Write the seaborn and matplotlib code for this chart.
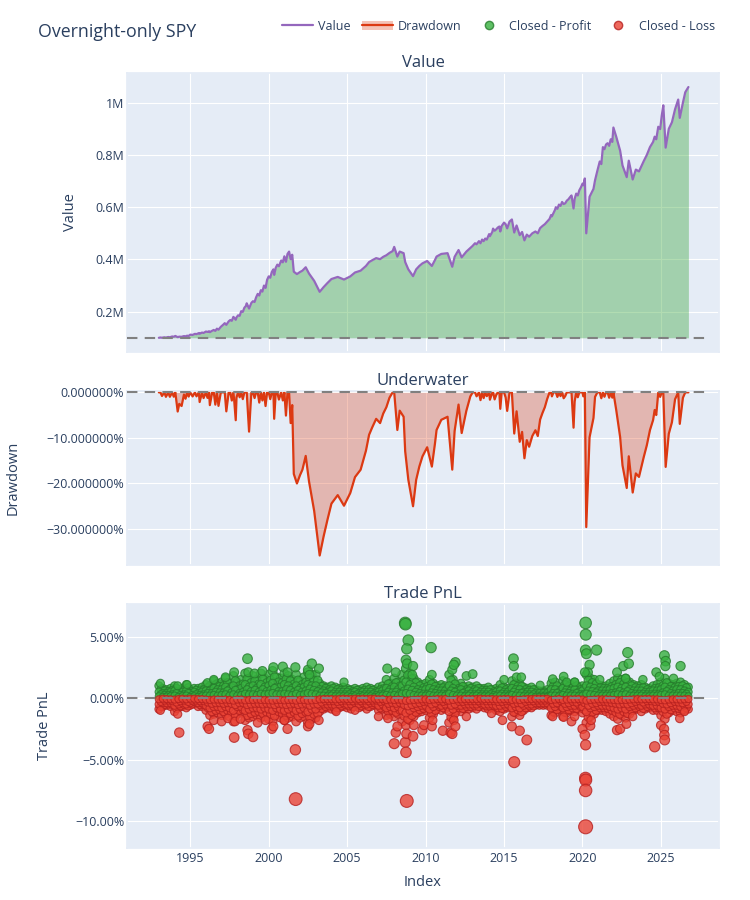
"""
Overnight-only SPY: portfolio value, underwater curve and closed trade PnL
"""

import matplotlib.pyplot as plt
import numpy as np
import pandas as pd
import seaborn as sns
from matplotlib.lines import Line2D
from matplotlib.patches import Patch

# --- portfolio value (fractional year, thousands USD) ---
value_years = [
    1993.0, 1993.1, 1993.2, 1993.35, 1993.45, 1993.6, 1993.7, 1993.85, 1993.95, 1994.05,
    1994.2, 1994.3, 1994.45, 1994.6, 1994.7, 1994.8, 1994.9,
    1995.0, 1995.15, 1995.3, 1995.4, 1995.55, 1995.6, 1995.75, 1995.85, 1996.0, 1996.1,
    1996.2, 1996.25, 1996.4, 1996.5, 1996.6, 1996.7, 1996.8, 1996.95,
    1997.1, 1997.2, 1997.3, 1997.45, 1997.55, 1997.65, 1997.75, 1997.8, 1997.9, 1997.95,
    1998.05, 1998.15, 1998.25, 1998.35, 1998.45, 1998.55, 1998.6, 1998.75, 1998.85, 1998.9,
    1999.0, 1999.1, 1999.2, 1999.3, 1999.4, 1999.5, 1999.6, 1999.7, 1999.8, 1999.9,
    2000.0, 2000.1, 2000.2, 2000.3, 2000.35, 2000.45, 2000.55, 2000.65, 2000.8, 2000.9,
    2001.0, 2001.1, 2001.2, 2001.3,
    2001.4, 2001.5, 2001.6, 2001.8, 2002.0, 2002.15, 2002.36, 2002.57, 2002.9, 2003.25,
    2003.5, 2003.75, 2004.0, 2004.4, 2004.8, 2005.2, 2005.5, 2005.86, 2006.2, 2006.4,
    2006.6, 2006.85, 2007.1, 2007.3, 2007.5, 2007.7, 2007.9,
    2008.0, 2008.2, 2008.35, 2008.6, 2008.7, 2008.9, 2009.2, 2009.4, 2009.6, 2009.8,
    2010.1, 2010.4, 2010.6, 2010.7, 2011.0, 2011.4, 2011.7, 2011.85, 2012.1, 2012.3,
    2012.6, 2012.85,
    2013.0, 2013.15, 2013.25, 2013.4, 2013.5, 2013.6, 2013.7, 2013.8, 2013.9, 2014.05,
    2014.1, 2014.25, 2014.3, 2014.4, 2014.5, 2014.6, 2014.7, 2014.76, 2014.85, 2015.0,
    2015.1, 2015.2, 2015.35, 2015.5,
    2015.65, 2015.8, 2016.0, 2016.15, 2016.3, 2016.45, 2016.6, 2016.8, 2017.0, 2017.15,
    2017.3, 2017.45, 2017.6, 2017.75, 2017.9,
    2018.0, 2018.05, 2018.15, 2018.25, 2018.3, 2018.4, 2018.5, 2018.6, 2018.7, 2018.8,
    2018.9, 2019.0, 2019.1, 2019.2, 2019.3, 2019.43, 2019.5, 2019.6, 2019.7, 2019.8,
    2019.9, 2020.0, 2020.05, 2020.15,
    2020.24, 2020.45, 2020.7, 2020.8, 2020.95, 2021.1, 2021.2, 2021.3, 2021.4, 2021.5,
    2021.6, 2021.7, 2021.8, 2021.9, 2021.97,
    2022.15, 2022.4, 2022.55, 2022.82, 2022.95, 2023.2, 2023.4, 2023.6, 2023.9, 2024.1,
    2024.3, 2024.5, 2024.6, 2024.7, 2024.83, 2024.95, 2025.05, 2025.15, 2025.3, 2025.5,
    2025.7, 2025.9, 2026.1, 2026.2, 2026.4, 2026.55, 2026.75,
]
value_k = [
    100, 101, 100.2, 101.8, 100.8, 103, 102, 105, 104, 107,
    102.5, 104.3, 103.8, 106.5, 105.5, 108, 107,
    112, 111, 115, 114, 118, 115.5, 120, 118.5, 124, 122.5,
    125, 121.5, 127, 130, 126.5, 135, 131, 142,
    150, 156, 149.5, 163, 168, 165, 180, 177, 169, 178,
    186, 184, 202, 199, 215, 222, 232, 212, 226, 234,
    240, 237, 255, 268, 262, 282, 277, 300, 291, 322,
    335, 330, 352, 362, 341, 368, 380, 374, 396, 389,
    412, 391, 421, 430,
    401, 418, 353, 344, 352, 357, 370, 346, 318, 276,
    294, 310, 325, 333, 323, 335, 350, 357, 375, 390,
    397, 405, 401, 410, 416, 425, 432,
    448, 411, 430, 424, 390, 362, 336, 362, 375, 385,
    394, 375, 398, 411, 421, 424, 372, 410, 436, 408,
    430, 444,
    452, 462, 458, 470, 462, 476, 470, 480, 476, 497,
    489, 505, 518, 510, 515, 522, 526, 507, 528, 541,
    535, 519, 545, 553,
    503, 530, 493, 505, 473, 495, 487, 500, 507, 500,
    520, 528, 535, 545, 555,
    570, 565, 578, 590, 600, 594, 610, 605, 620, 612,
    615, 625, 630, 638, 645, 595, 632, 652, 645, 665,
    676, 690, 684, 710,
    500, 640, 670, 703, 740, 775, 765, 830, 822, 840,
    845, 835, 860, 850, 905,
    870, 816, 760, 715, 778, 706, 744, 737, 776, 800,
    830, 850, 870, 860, 908, 899, 950, 990, 828, 900,
    925, 975, 1012, 942, 1000, 1040, 1060,
]
init_cash_k = 100

# --- closed trades (percent) ---
# dense band, one row of trades per quarter 1993.0 .. 2026.75, another row between quarters
band_start, band_end = 1993.0, 2026.75

profit_edge = [
    1.0, 0.8, 0.7, 0.8,  1.0, 0.7, 0.8, 1.1,  0.7, 0.8, 0.8, 0.9,  1.1, 1.0, 1.4, 1.2,  # 93-96
    1.3, 1.6, 1.2, 1.8,  1.3, 1.5, 2.0, 1.6,  1.8, 1.5, 2.0, 1.6,  1.9, 2.2, 1.7, 1.6,  # 97-00
    2.0, 1.8, 1.5, 1.9,  1.4, 1.7, 2.1, 1.9,  1.9, 1.2, 1.0, 0.9,  1.0, 0.9, 0.8, 0.9,  # 01-04
    0.8, 0.7, 0.8, 0.7,  0.8, 0.9, 0.8, 0.7,  0.9, 1.0, 1.5, 1.2,  1.6, 1.3, 1.9, 2.4,  # 05-08
    2.0, 1.6, 1.3, 1.1,  1.2, 1.5, 1.2, 1.0,  1.1, 1.0, 1.9, 1.5,  1.0, 1.2, 0.9, 1.0,  # 09-12
    0.9, 1.0, 0.8, 0.8,  0.9, 0.7, 0.8, 1.1,  0.9, 0.8, 1.4, 1.2,  1.2, 0.9, 0.8, 0.9,  # 13-16
    0.7, 0.6, 0.6, 0.7,  1.2, 1.3, 0.9, 1.4,  1.2, 1.1, 1.3, 0.9,  1.0, 1.9, 1.6, 1.5,  # 17-20
    1.1, 1.0, 1.0, 1.2,  1.4, 1.6, 1.5, 1.6,  1.3, 1.1, 1.0, 1.1,  0.9, 0.8, 1.0, 1.1,  # 21-24
    1.3, 1.6, 1.2, 1.1,  1.2, 1.3, 1.1, 0.9,  # 25-26
]
profit_mid = [
    0.5, 0.4, 0.4, 0.5,  0.6, 0.4, 0.5, 0.6,  0.4, 0.5, 0.4, 0.5,  0.6, 0.6, 0.8, 0.7,
    0.7, 0.9, 0.7, 1.0,  0.7, 0.8, 1.1, 0.9,  1.0, 0.8, 1.1, 0.9,  1.0, 1.2, 0.9, 0.9,
    1.1, 1.0, 0.8, 1.0,  0.8, 0.9, 1.1, 1.0,  1.0, 0.7, 0.6, 0.5,  0.6, 0.5, 0.5, 0.5,
    0.5, 0.4, 0.5, 0.4,  0.5, 0.5, 0.5, 0.4,  0.5, 0.6, 0.8, 0.7,  0.9, 0.7, 1.0, 1.3,
    1.1, 0.9, 0.7, 0.6,  0.7, 0.8, 0.7, 0.6,  0.6, 0.6, 1.0, 0.8,  0.6, 0.7, 0.5, 0.6,
    0.5, 0.6, 0.5, 0.5,  0.5, 0.4, 0.5, 0.6,  0.5, 0.5, 0.8, 0.7,  0.7, 0.5, 0.5, 0.5,
    0.4, 0.4, 0.4, 0.4,  0.7, 0.7, 0.5, 0.8,  0.7, 0.6, 0.7, 0.5,  0.6, 1.0, 0.9, 0.8,
    0.6, 0.6, 0.6, 0.7,  0.8, 0.9, 0.8, 0.9,  0.7, 0.6, 0.6, 0.6,  0.5, 0.5, 0.6, 0.6,
    0.7, 0.9, 0.7, 0.6,  0.7, 0.7, 0.6, 0.5,
]
profit_small = [
    0.15, 0.10, 0.12, 0.15,  0.20, 0.10, 0.15, 0.20,  0.10, 0.15, 0.10, 0.15,  0.20, 0.20, 0.25, 0.20,
    0.25, 0.30, 0.20, 0.30,  0.20, 0.25, 0.35, 0.30,  0.30, 0.25, 0.35, 0.30,  0.35, 0.40, 0.30, 0.30,
    0.35, 0.30, 0.25, 0.35,  0.25, 0.30, 0.40, 0.35,  0.30, 0.20, 0.20, 0.15,  0.20, 0.15, 0.15, 0.15,
    0.15, 0.10, 0.15, 0.10,  0.15, 0.15, 0.15, 0.10,  0.15, 0.20, 0.25, 0.20,  0.25, 0.20, 0.35, 0.40,
    0.35, 0.25, 0.20, 0.20,  0.20, 0.25, 0.20, 0.20,  0.20, 0.20, 0.35, 0.25,  0.20, 0.20, 0.15, 0.20,
    0.15, 0.20, 0.15, 0.15,  0.15, 0.10, 0.15, 0.20,  0.15, 0.15, 0.25, 0.20,  0.20, 0.15, 0.15, 0.15,
    0.10, 0.10, 0.10, 0.10,  0.20, 0.20, 0.15, 0.25,  0.20, 0.20, 0.20, 0.15,  0.20, 0.35, 0.30, 0.25,
    0.20, 0.20, 0.20, 0.20,  0.25, 0.30, 0.25, 0.30,  0.20, 0.20, 0.20, 0.20,  0.15, 0.15, 0.20, 0.20,
    0.25, 0.30, 0.20, 0.20,  0.20, 0.20, 0.20, 0.15,
]
# rows between quarters (1993.125 .. 2026.625)
profit_mid2 = [
    0.70, 0.60, 0.55, 0.65,  0.80, 0.55, 0.65, 0.85,  0.55, 0.65, 0.60, 0.70,  0.85, 0.80, 1.10, 0.95,
    1.00, 1.25, 0.95, 1.40,  1.00, 1.15, 1.55, 1.25,  1.40, 1.15, 1.55, 1.25,  1.45, 1.70, 1.30, 1.25,
    1.55, 1.40, 1.15, 1.45,  1.10, 1.30, 1.60, 1.45,  1.45, 0.95, 0.80, 0.70,  0.80, 0.70, 0.65, 0.70,
    0.65, 0.55, 0.65, 0.55,  0.65, 0.70, 0.65, 0.55,  0.70, 0.80, 1.15, 0.95,  1.25, 1.00, 1.45, 1.85,
    1.55, 1.25, 1.00, 0.85,  0.95, 1.15, 0.95, 0.80,  0.85, 0.80, 1.45, 1.15,  0.80, 0.95, 0.70, 0.80,
    0.70, 0.80, 0.65, 0.65,  0.70, 0.55, 0.65, 0.85,  0.70, 0.65, 1.10, 0.95,  0.95, 0.70, 0.65, 0.70,
    0.55, 0.50, 0.50, 0.55,  0.95, 1.00, 0.70, 1.10,  0.95, 0.85, 1.00, 0.70,  0.80, 1.45, 1.25, 1.15,
    0.85, 0.80, 0.80, 0.95,  1.10, 1.25, 1.15, 1.25,  1.00, 0.85, 0.80, 0.85,  0.70, 0.65, 0.80, 0.85,
    1.00, 1.25, 0.95, 0.85,  0.95, 1.00, 0.85,
]
profit_small2 = [
    0.30, 0.25, 0.25, 0.30,  0.40, 0.25, 0.30, 0.40,  0.25, 0.30, 0.25, 0.30,  0.40, 0.40, 0.50, 0.45,
    0.45, 0.60, 0.45, 0.65,  0.40, 0.50, 0.70, 0.55,  0.65, 0.50, 0.70, 0.55,  0.65, 0.80, 0.55, 0.55,
    0.70, 0.65, 0.50, 0.65,  0.50, 0.60, 0.75, 0.65,  0.55, 0.45, 0.40, 0.30,  0.35, 0.30, 0.30, 0.30,
    0.30, 0.25, 0.30, 0.25,  0.30, 0.30, 0.30, 0.25,  0.30, 0.35, 0.50, 0.45,  0.50, 0.40, 0.60, 0.75,
    0.65, 0.50, 0.40, 0.35,  0.35, 0.45, 0.40, 0.35,  0.35, 0.35, 0.60, 0.50,  0.35, 0.40, 0.30, 0.35,
    0.30, 0.35, 0.30, 0.30,  0.30, 0.25, 0.30, 0.35,  0.30, 0.30, 0.50, 0.40,  0.40, 0.30, 0.30, 0.30,
    0.20, 0.20, 0.20, 0.20,  0.40, 0.40, 0.30, 0.45,  0.40, 0.35, 0.40, 0.30,  0.35, 0.60, 0.55, 0.45,
    0.35, 0.35, 0.35, 0.40,  0.45, 0.55, 0.45, 0.55,  0.40, 0.35, 0.35, 0.35,  0.30, 0.30, 0.35, 0.35,
    0.45, 0.55, 0.40, 0.35,  0.40, 0.40, 0.35,
]
loss_edge = [
    -0.9, -0.7, -0.6, -0.7,  -1.1, -0.8, -0.7, -0.8,  -0.6, -0.5, -0.7, -0.7,  -1.0, -1.4, -1.3, -1.2,
    -1.4, -1.3, -1.5, -1.9,  -1.3, -1.2, -1.8, -1.6,  -1.5, -1.4, -1.6, -1.5,  -1.7, -1.9, -1.4, -1.6,
    -1.8, -1.6, -1.5, -1.9,  -1.6, -1.5, -2.0, -1.7,  -1.6, -1.1, -0.9, -0.8,  -0.9, -1.0, -0.8, -0.7,
    -0.8, -0.9, -0.7, -0.8,  -0.7, -0.9, -0.7, -0.6,  -1.0, -0.9, -1.4, -1.3,  -1.5, -1.3, -1.9, -2.2,
    -1.8, -1.5, -1.2, -1.1,  -1.0, -1.6, -1.3, -0.9,  -1.0, -0.9, -2.0, -1.6,  -1.0, -1.1, -0.9, -0.9,
    -0.8, -0.9, -0.7, -0.8,  -0.9, -0.8, -1.0, -1.1,  -0.9, -0.8, -1.5, -1.2,  -1.4, -1.0, -0.8, -0.8,
    -0.6, -0.6, -0.6, -0.6,  -1.4, -1.2, -0.9, -1.5,  -1.2, -1.0, -1.1, -0.9,  -1.2, -2.0, -1.5, -1.3,
    -1.0, -1.0, -1.1, -1.3,  -1.5, -1.7, -1.4, -1.6,  -1.3, -1.0, -0.9, -1.1,  -0.9, -0.8, -1.0, -1.0,
    -1.4, -1.7, -1.2, -1.0,  -1.1, -1.2, -1.0, -0.9,
]
loss_mid = [
    -0.5, -0.4, -0.4, -0.4,  -0.6, -0.5, -0.4, -0.5,  -0.4, -0.3, -0.4, -0.4,  -0.6, -0.8, -0.7, -0.7,
    -0.8, -0.7, -0.8, -1.0,  -0.7, -0.7, -1.0, -0.9,  -0.8, -0.8, -0.9, -0.8,  -0.9, -1.0, -0.8, -0.9,
    -1.0, -0.9, -0.8, -1.0,  -0.9, -0.8, -1.1, -0.9,  -0.9, -0.6, -0.5, -0.5,  -0.5, -0.6, -0.5, -0.4,
    -0.5, -0.5, -0.4, -0.5,  -0.4, -0.5, -0.4, -0.4,  -0.6, -0.5, -0.8, -0.7,  -0.8, -0.7, -1.0, -1.2,
    -1.0, -0.8, -0.7, -0.6,  -0.6, -0.9, -0.7, -0.5,  -0.6, -0.5, -1.1, -0.9,  -0.6, -0.6, -0.5, -0.5,
    -0.5, -0.5, -0.4, -0.5,  -0.5, -0.5, -0.6, -0.6,  -0.5, -0.5, -0.8, -0.7,  -0.8, -0.6, -0.5, -0.5,
    -0.4, -0.4, -0.4, -0.4,  -0.8, -0.7, -0.5, -0.8,  -0.7, -0.6, -0.6, -0.5,  -0.7, -1.1, -0.8, -0.7,
    -0.6, -0.6, -0.6, -0.7,  -0.8, -0.9, -0.8, -0.9,  -0.7, -0.6, -0.5, -0.6,  -0.5, -0.5, -0.6, -0.6,
    -0.8, -0.9, -0.7, -0.6,  -0.6, -0.7, -0.6, -0.5,
]
loss_small = [
    -0.10, -0.05, -0.08, -0.10,  -0.12, -0.08, -0.05, -0.10,  -0.05, -0.05, -0.08, -0.08,  -0.12, -0.15, -0.12, -0.12,
    -0.15, -0.12, -0.15, -0.20,  -0.12, -0.12, -0.18, -0.15,  -0.15, -0.12, -0.15, -0.15,  -0.18, -0.20, -0.15, -0.15,
    -0.18, -0.15, -0.15, -0.20,  -0.15, -0.15, -0.20, -0.18,  -0.15, -0.10, -0.08, -0.08,  -0.08, -0.10, -0.08, -0.05,
    -0.08, -0.08, -0.05, -0.08,  -0.05, -0.08, -0.05, -0.05,  -0.10, -0.08, -0.15, -0.12,  -0.15, -0.12, -0.18, -0.22,
    -0.18, -0.15, -0.12, -0.10,  -0.10, -0.15, -0.12, -0.08,  -0.10, -0.08, -0.20, -0.15,  -0.10, -0.10, -0.08, -0.08,
    -0.08, -0.08, -0.05, -0.08,  -0.08, -0.08, -0.10, -0.10,  -0.08, -0.08, -0.15, -0.12,  -0.15, -0.10, -0.08, -0.08,
    -0.05, -0.05, -0.05, -0.05,  -0.15, -0.12, -0.08, -0.15,  -0.12, -0.10, -0.10, -0.08,  -0.12, -0.20, -0.15, -0.12,
    -0.10, -0.10, -0.10, -0.12,  -0.15, -0.18, -0.15, -0.15,  -0.12, -0.10, -0.08, -0.10,  -0.08, -0.08, -0.10, -0.10,
    -0.15, -0.18, -0.12, -0.10,  -0.10, -0.12, -0.10, -0.08,
]
loss_mid2 = [
    -0.70, -0.55, -0.50, -0.55,  -0.85, -0.65, -0.55, -0.65,  -0.50, -0.40, -0.55, -0.55,  -0.80, -1.10, -1.00, -0.95,
    -1.10, -1.00, -1.15, -1.45,  -1.00, -0.95, -1.40, -1.25,  -1.15, -1.10, -1.25, -1.15,  -1.30, -1.45, -1.10, -1.25,
    -1.40, -1.25, -1.15, -1.45,  -1.25, -1.15, -1.55, -1.30,  -1.25, -0.85, -0.70, -0.65,  -0.70, -0.80, -0.65, -0.55,
    -0.65, -0.70, -0.55, -0.65,  -0.55, -0.70, -0.55, -0.50,  -0.80, -0.70, -1.10, -1.00,  -1.15, -1.00, -1.45, -1.70,
    -1.40, -1.15, -0.95, -0.85,  -0.80, -1.25, -1.00, -0.70,  -0.80, -0.70, -1.55, -1.25,  -0.80, -0.85, -0.70, -0.70,
    -0.65, -0.70, -0.55, -0.65,  -0.70, -0.65, -0.80, -0.85,  -0.70, -0.65, -1.15, -0.95,  -1.10, -0.80, -0.65, -0.65,
    -0.50, -0.50, -0.50, -0.50,  -1.10, -0.95, -0.70, -1.15,  -0.95, -0.80, -0.85, -0.70,  -0.95, -1.55, -1.15, -1.00,
    -0.80, -0.80, -0.85, -1.00,  -1.15, -1.30, -1.10, -1.25,  -1.00, -0.80, -0.70, -0.85,  -0.70, -0.65, -0.80, -0.80,
    -1.10, -1.30, -0.95, -0.80,  -0.85, -0.95, -0.80,
]
loss_small2 = [
    -0.30, -0.20, -0.20, -0.25,  -0.35, -0.25, -0.20, -0.30,  -0.20, -0.20, -0.25, -0.25,  -0.35, -0.45, -0.40, -0.40,
    -0.45, -0.40, -0.45, -0.55,  -0.40, -0.40, -0.55, -0.50,  -0.45, -0.45, -0.50, -0.45,  -0.50, -0.55, -0.45, -0.50,
    -0.55, -0.50, -0.45, -0.55,  -0.50, -0.45, -0.60, -0.50,  -0.50, -0.35, -0.25, -0.25,  -0.25, -0.30, -0.25, -0.20,
    -0.25, -0.25, -0.20, -0.25,  -0.20, -0.25, -0.20, -0.20,  -0.30, -0.25, -0.45, -0.40,  -0.45, -0.40, -0.55, -0.65,
    -0.55, -0.45, -0.40, -0.30,  -0.30, -0.50, -0.40, -0.25,  -0.30, -0.25, -0.60, -0.50,  -0.30, -0.30, -0.25, -0.25,
    -0.25, -0.25, -0.20, -0.25,  -0.25, -0.25, -0.30, -0.30,  -0.25, -0.25, -0.45, -0.40,  -0.45, -0.30, -0.25, -0.25,
    -0.20, -0.20, -0.20, -0.20,  -0.45, -0.40, -0.25, -0.45,  -0.40, -0.30, -0.35, -0.25,  -0.40, -0.60, -0.45, -0.40,
    -0.30, -0.30, -0.35, -0.40,  -0.45, -0.50, -0.45, -0.50,  -0.40, -0.30, -0.25, -0.35,  -0.25, -0.25, -0.30, -0.30,
    -0.45, -0.50, -0.40, -0.30,  -0.35, -0.40, -0.30,
]

# individual trades that stand out of the band
profit_out_years = [
    1993.1, 1994.2, 1994.8, 1996.1, 1996.5, 1997.25, 1997.8, 1998.65, 1998.7, 1999.1, 1999.6,
    2000.3, 2000.9, 2001.2, 2001.7, 2002.5, 2002.6, 2002.75, 2003.2,
    2004.8, 2007.56, 2008.1, 2008.7, 2008.72, 2008.9, 2008.8, 2008.75, 2008.82, 2009.2, 2009.15,
    2010.35, 2010.4, 2011.7, 2011.9, 2011.8, 2012.6, 2013.0, 2015.0, 2015.6, 2015.62, 2015.8,
    2016.1, 2017.3, 2018.1, 2018.8, 2019.0, 2019.5, 2020.2, 2020.21, 2020.19, 2020.25, 2020.9,
    2020.45, 2020.35, 2020.15, 2021.1, 2022.2, 2022.6, 2022.88, 2022.95, 2022.75, 2023.85,
    2024.7, 2024.9, 2025.22, 2025.3, 2025.28, 2025.8, 2026.25,
]
profit_out_pct = [
    1.2, 1.0, 1.1, 1.25, 1.5, 1.7, 2.1, 3.2, 2.1, 2.0, 2.2,
    2.5, 2.55, 2.1, 2.5, 2.3, 1.9, 2.8, 2.4,
    1.3, 2.4, 2.1, 6.1, 6.0, 4.7, 4.0, 3.1, 2.8, 2.6, 1.9,
    4.1, 1.9, 2.3, 2.9, 2.7, 1.8, 1.95, 1.5, 3.2, 2.6, 1.7,
    1.7, 1.05, 1.55, 1.75, 1.3, 1.3, 6.1, 5.15, 3.9, 3.6, 3.9,
    2.7, 2.1, 2.1, 1.5, 2.1, 2.6, 3.7, 2.8, 1.6, 1.5,
    2.1, 1.75, 3.45, 3.0, 2.6, 1.6, 2.6,
]
loss_out_years = [
    1993.1, 1994.2, 1994.3, 1996.1, 1996.2, 1996.5, 1997.0, 1997.4, 1997.8, 1997.85, 1998.2,
    1998.65, 1998.7, 1999.0, 1999.3, 1999.8, 2000.2, 2000.3, 2001.0, 2001.2, 2001.7, 2001.72,
    2002.5, 2002.6, 2003.2,
    2004.3, 2005.5, 2007.0, 2007.6, 2008.0, 2008.1, 2008.2, 2008.7, 2008.75, 2008.78, 2008.8,
    2009.2, 2009.25, 2009.8, 2009.9, 2010.4, 2010.45, 2011.1, 2011.6, 2011.7, 2011.8, 2011.9,
    2012.6, 2014.2, 2014.9, 2015.5, 2015.65, 2016.0, 2016.45,
    2018.1, 2018.8, 2019.3, 2019.5, 2020.0, 2020.15, 2020.2, 2020.19, 2020.21, 2020.2, 2020.2,
    2020.5, 2020.55, 2022.2, 2022.4, 2022.8, 2023.2, 2024.6, 2025.0, 2025.2, 2025.22, 2025.24,
    2026.2, 2026.5,
]
loss_out_pct = [
    -1.0, -1.3, -2.8, -2.3, -2.5, -1.8, -1.9, -1.65, -3.2, -1.9, -1.7,
    -2.6, -2.9, -3.15, -2.0, -1.8, -2.5, -2.3, -1.8, -2.5, -4.2, -8.2,
    -2.3, -2.1, -1.8,
    -1.1, -1.0, -1.5, -1.65, -3.7, -2.8, -2.3, -3.6, -4.4, -2.9, -8.35,
    -3.1, -2.2, -2.6, -2.2, -2.3, -1.8, -2.65, -2.8, -2.9, -1.8, -2.3,
    -1.5, -1.25, -1.8, -2.3, -5.2, -2.65, -3.4,
    -1.5, -1.55, -1.9, -1.5, -2.5, -3.0, -3.8, -6.5, -6.65, -7.5, -10.45,
    -2.25, -1.8, -2.6, -2.5, -2.1, -1.5, -3.95, -2.2, -2.5, -3.0, -3.4,
    -1.65, -1.1,
]

# --- axis ticks ---
year_ticks = [1995, 2000, 2005, 2010, 2015, 2020, 2025]
value_ticks = [200_000, 400_000, 600_000, 800_000, 1_000_000]
value_tick_labels = ["0.2M", "0.4M", "0.6M", "0.8M", "1M"]
dd_ticks = [0.0, -0.1, -0.2, -0.3]
dd_tick_labels = ["0.000000%", "\u221210.000000%", "\u221220.000000%", "\u221230.000000%"]
pnl_ticks = [0.05, 0.0, -0.05, -0.10]
pnl_tick_labels = ["5.00%", "0.00%", "\u22125.00%", "\u221210.00%"]

# --- colours ---
PURPLE = "#9467bd"
FILL_GREEN = "#2ca02c"
DD_RED = "#dc3912"
GREEN = "#37B13F"
GREEN_EDGE = "#267C2C"
RED = "#EA4335"
RED_EDGE = "#B6201F"
TEXT = "#2a3f5f"

# --- frames ---
value = pd.DataFrame({"year": value_years, "value": np.array(value_k) * 1000.0})
value["drawdown"] = value["value"] / value["value"].cummax() - 1
init_cash = init_cash_k * 1000.0

band_years = np.arange(band_start, band_end + 0.01, 0.25)
band_years2 = band_years[:-1] + 0.125


def trades_frame(edge, mid, small, mid2, small2, out_years, out_pct):
    years = np.concatenate([band_years, band_years2, band_years, band_years2, band_years, out_years])
    pct = np.concatenate([edge, mid2, mid, small2, small, out_pct])
    df = pd.DataFrame({"year": years, "pnl": pct / 100.0})
    df["mag"] = df["pnl"].abs()
    return df


profits = trades_frame(profit_edge, profit_mid, profit_small, profit_mid2, profit_small2,
                       profit_out_years, profit_out_pct)
losses = trades_frame(loss_edge, loss_mid, loss_small, loss_mid2, loss_small2,
                      loss_out_years, loss_out_pct)

# --- style ---
sns.set_theme(
    style="darkgrid",
    rc={
        "axes.facecolor": "#E5ECF6",
        "grid.color": "white",
        "grid.linewidth": 0.8,
        "axes.edgecolor": "#E5ECF6",
    },
)
plt.rcParams["font.family"] = ["Open Sans", "DejaVu Sans"]

fig = plt.figure(figsize=(7.5, 9), dpi=100)
left, width = 127 / 750, 592 / 750
ax_val = fig.add_axes([left, 1 - 352 / 900, width, 279 / 900])
ax_dd = fig.add_axes([left, 1 - 565 / 900, width, 174 / 900], sharex=ax_val)
ax_pnl = fig.add_axes([left, 1 - 848 / 900, width, 244 / 900], sharex=ax_val)

dash = (0, (5, 3.5))
hline_end = (710 - 127) / 592

# Value
ax_val.fill_between(value["year"], value["value"], init_cash, color=FILL_GREEN, alpha=0.36, linewidth=0, zorder=1)
sns.lineplot(data=value, x="year", y="value", color=PURPLE, linewidth=1.6, ax=ax_val, zorder=2)
ax_val.axhline(init_cash, xmax=hline_end, color="gray", linewidth=1.5, linestyle=dash, zorder=4)
ax_val.set_ylim(45_600, 1_113_800)
ax_val.set_yticks(value_ticks, value_tick_labels)
ax_val.set_title("Value", fontsize=12, color=TEXT, pad=4)
ax_val.set_ylabel("Value", fontsize=10.5, color=TEXT, va="center")
ax_val.yaxis.set_label_coords((71 - 127) / 592, 0.5)

# Underwater
ax_dd.fill_between(value["year"], value["drawdown"], 0, color=DD_RED, alpha=0.3, linewidth=0, zorder=1)
sns.lineplot(data=value, x="year", y="drawdown", color=DD_RED, linewidth=1.6, ax=ax_dd, zorder=2)
ax_dd.axhline(0, xmax=hline_end, color="gray", linewidth=1.5, linestyle=dash, zorder=4)
ax_dd.set_ylim(-0.379, 0.003)
ax_dd.set_yticks(dd_ticks, dd_tick_labels)
ax_dd.set_title("Underwater", fontsize=12, color=TEXT, pad=4)
ax_dd.set_ylabel("Drawdown", fontsize=10.5, color=TEXT, va="center")
ax_dd.yaxis.set_label_coords((13 - 127) / 592, 0.5)

# Trade PnL
size_range = ((7 * 0.72) ** 2, (14 * 0.72) ** 2)
for df, face, edge in [(profits, GREEN, GREEN_EDGE), (losses, RED, RED_EDGE)]:
    sns.scatterplot(
        data=df, x="year", y="pnl", size="mag", sizes=size_range, size_norm=(0, 0.105),
        color=face, edgecolor=edge, linewidth=0.8, alpha=0.8, legend=False, ax=ax_pnl, zorder=3,
    )
ax_pnl.axhline(0, xmax=hline_end, color="gray", linewidth=1.5, linestyle=dash, zorder=5)
ax_pnl.set_ylim(-0.1217, 0.0764)
ax_pnl.set_yticks(pnl_ticks, pnl_tick_labels)
ax_pnl.set_title("Trade PnL", fontsize=12, color=TEXT, pad=4)
ax_pnl.set_ylabel("Trade PnL", fontsize=10.5, color=TEXT, va="center")
ax_pnl.yaxis.set_label_coords((44 - 127) / 592, 0.5)
ax_pnl.set_xlabel("Index", fontsize=10.5, color=TEXT, va="center")
ax_pnl.xaxis.set_label_coords(0.5, (848 - 883) / 244)

ax_val.set_xlim(1990.97, 2028.7)
ax_val.set_xticks(year_ticks)
for ax in (ax_val, ax_dd, ax_pnl):
    ax.tick_params(axis="both", length=0, labelsize=9, labelcolor=TEXT)
    ax.tick_params(axis="y", pad=2)
    ax.tick_params(axis="x", pad=3)
    ax.grid(True, color="white", linewidth=0.8)
for ax in (ax_val, ax_dd):
    ax.tick_params(labelbottom=False)
    ax.set_xlabel("")

# Title and legend
fig.text(38 / 750, 1 - 32 / 900, "Overnight-only SPY", fontsize=12.75, color=TEXT, ha="left", va="center")

handles = [
    Line2D([], [], color=PURPLE, linewidth=1.6),
    (Patch(facecolor=DD_RED, alpha=0.3, linewidth=0), Line2D([], [], color=DD_RED, linewidth=1.6)),
    Line2D([], [], linestyle="", marker="o", markersize=6, markerfacecolor=GREEN,
           markeredgecolor=GREEN_EDGE, alpha=0.8),
    Line2D([], [], linestyle="", marker="o", markersize=6, markerfacecolor=RED,
           markeredgecolor=RED_EDGE, alpha=0.8),
]
labels = ["Value", "Drawdown", "Closed - Profit", "Closed - Loss"]
fig.legend(
    handles, labels, loc="center right", bbox_to_anchor=(715 / 750, 1 - 26 / 900), ncol=4,
    frameon=False, fontsize=9, labelcolor=TEXT, handlelength=2.5, handletextpad=0.4,
    columnspacing=0.9, borderaxespad=0, borderpad=0,
)

fig.savefig("out.png", dpi=100)
